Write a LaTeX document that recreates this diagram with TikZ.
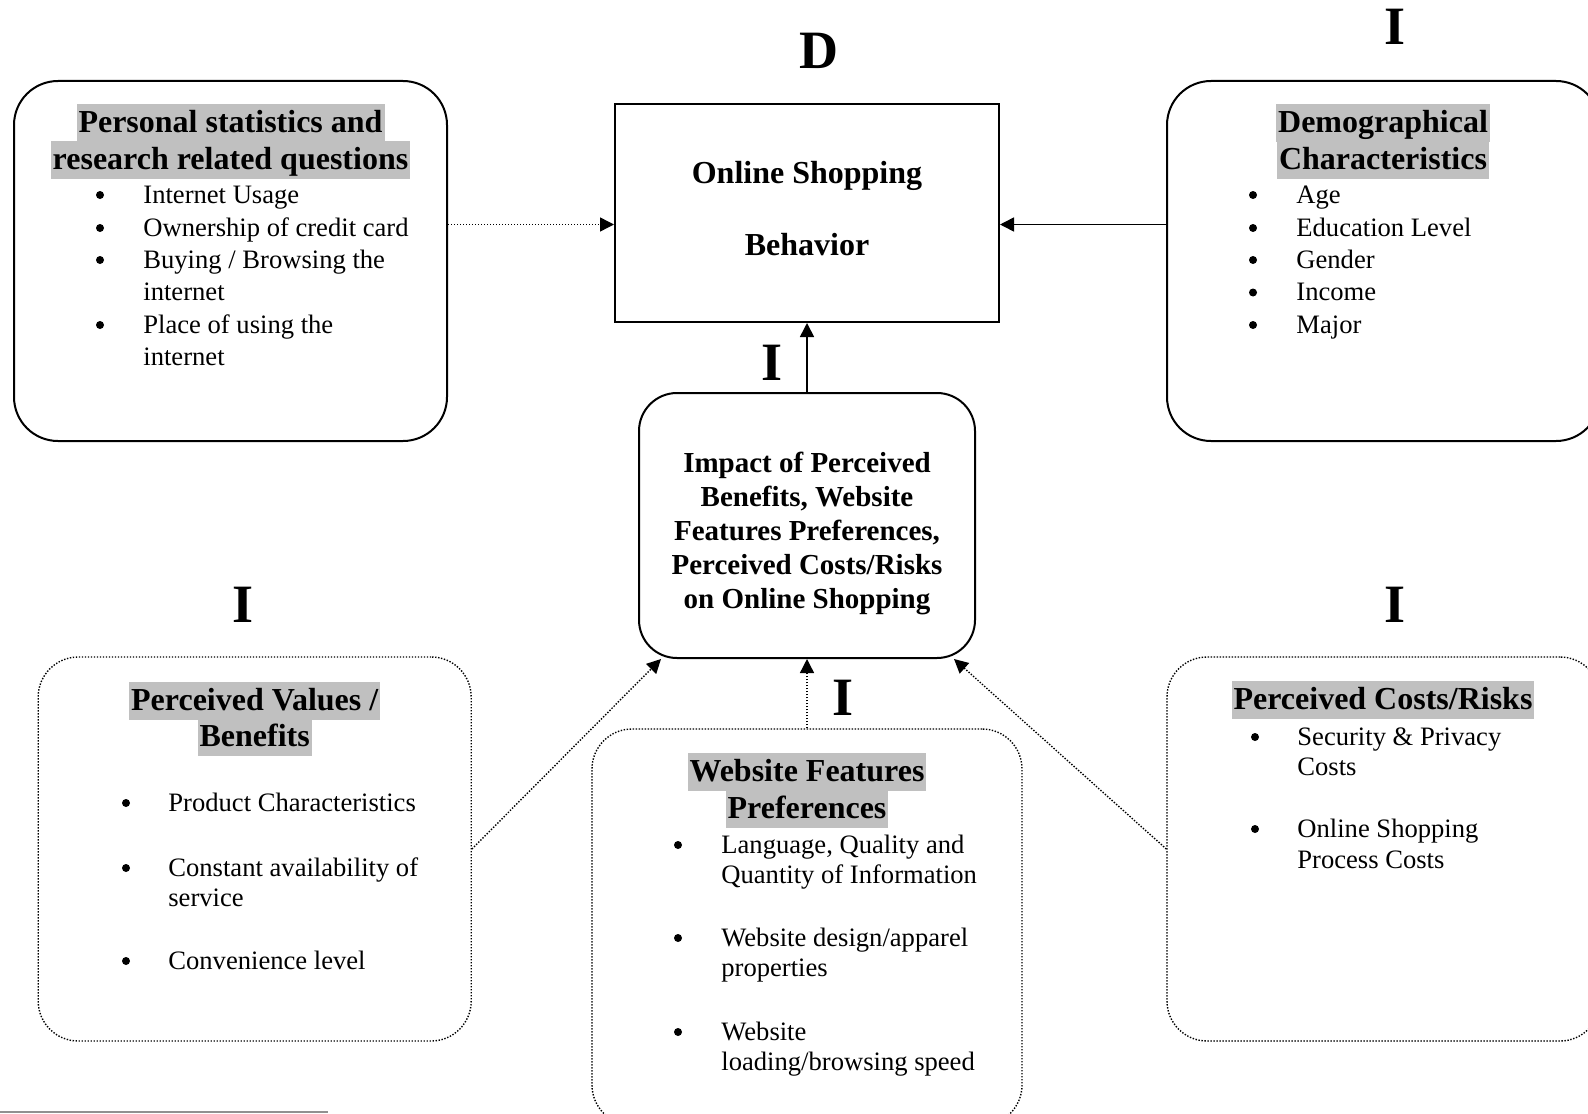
\documentclass[tikz,border=0pt]{standalone}
\usepackage{fontspec}
\setmainfont{Liberation Serif}
\usetikzlibrary{arrows.meta}
\definecolor{hlgray}{HTML}{C0C0C0}
\definecolor{rulegray}{HTML}{909090}

\begin{document}
\begin{tikzpicture}[
  x=0.5pt,y=-0.5pt,
  solidbox/.style={draw,line width=1pt,rounded corners=22pt,inner sep=0pt},
  dotbox/.style={draw,line width=0.7pt,dash pattern=on 0.7pt off 0.8pt,rounded corners=20pt,inner sep=0pt},
  heading/.style={fill=hlgray,inner xsep=1pt,inner ysep=0pt,text height=14pt,text depth=4.75pt,font=\bfseries\fontsize{16}{18}\selectfont},
  itemtext/.style={anchor=base west,inner sep=0pt,font=\fontsize{13.3}{15}\selectfont},
  bulletmark/.style={circle,fill,inner sep=0pt,minimum size=4pt,yshift=4pt},
  letter/.style={inner sep=0pt,font=\bfseries\fontsize{27}{30}\selectfont},
  link/.style={-{Triangle[length=7pt,width=7pt]},line width=0.8pt},
  dotlink/.style={-{Triangle[length=7pt,width=7pt]},line width=0.7pt,dash pattern=on 0.7pt off 0.8pt}
]
  \useasboundingbox (0,0) rectangle (1588,1113);
  \clip (0,0) rectangle (1588,1113);

  % boxes
  \node[solidbox,minimum width=216.5pt,minimum height=180pt] (pers) at (230.5,261) {};
  \node[draw,line width=1pt,inner sep=0pt,minimum width=192pt,minimum height=109pt] (beh) at (807,213) {};
  \node[solidbox,minimum width=216.5pt,minimum height=180pt] (demo) at (1383.5,261) {};
  \node[solidbox,rounded corners=19pt,minimum width=168pt,minimum height=132.5pt] (imp) at (807,525.5) {};
  \node[dotbox,minimum width=216.5pt,minimum height=192pt] (pvb) at (254.7,849) {};
  \node[dotbox,minimum width=215pt,minimum height=198pt] (wfp) at (807,927) {};
  \node[dotbox,minimum width=216.5pt,minimum height=192pt] (cr) at (1383.5,849) {};

  % dependent variable
  \node[anchor=base,inner sep=0pt,font=\bfseries\fontsize{16}{18}\selectfont] (beh-1) at (807,183) {Online Shopping};
  \node[anchor=base,inner sep=0pt,font=\bfseries\fontsize{16}{18}\selectfont] (beh-2) at (807,255) {Behavior};
  \node[align=center,inner sep=0pt,font=\bfseries\fontsize{14.5}{17}\selectfont] (imp-t) at (807,533)
    {Impact of Perceived\\Benefits, Website\\Features Preferences,\\Perceived Costs/Risks\\on Online Shopping};

  % personal statistics
  \node[heading] (pers-h1) at (230.5,123) {Personal statistics and};
  \node[heading] (pers-h2) at (230.5,160) {research related questions};
  \foreach \yy [count=\j] in {203,236,268,333} \node[bulletmark] (pers-b\j) at (100,\yy) {};
  \foreach \yy/\txt [count=\i] in {203/{Internet Usage},236/{Ownership of credit card},268/{Buying / Browsing the},300.5/{internet},333/{Place of using the},365/{internet}}
    \node[itemtext] (pers-\i) at (143,\yy) {\txt};

  % demographics
  \node[heading] (demo-h1) at (1383,123) {Demographical};
  \node[heading] (demo-h2) at (1383,160) {Characteristics};
  \foreach \yy [count=\j] in {203,236,268,300.5,333} \node[bulletmark] (demo-b\j) at (1253,\yy) {};
  \foreach \yy/\txt [count=\i] in {203/{Age},236/{Education Level},268/{Gender},300.5/{Income},333/{Major}}
    \node[itemtext] (demo-\i) at (1296,\yy) {\txt};

  % perceived values
  \node[heading] (pvb-h1) at (254.7,701) {Perceived Values /};
  \node[heading] (pvb-h2) at (254.7,737.5) {Benefits};
  \foreach \yy [count=\j] in {811,876,969} \node[bulletmark] (pvb-b\j) at (126,\yy) {};
  \foreach \yy/\txt [count=\i] in {811/{Product Characteristics},876/{Constant availability of},906/{service},969/{Convenience level}}
    \node[itemtext] (pvb-\i) at (168,\yy) {\txt};

  % website features
  \node[heading] (wfp-h1) at (807,772) {Website Features};
  \node[heading] (wfp-h2) at (807,809) {Preferences};
  \foreach \yy [count=\j] in {853,946,1040} \node[bulletmark] (wfp-b\j) at (678,\yy) {};
  \foreach \yy/\txt [count=\i] in {853/{Language, Quality and},883/{Quantity of Information},946/{Website design/apparel},976/{properties},1040/{Website},1070/{loading/browsing speed}}
    \node[itemtext] (wfp-\i) at (721,\yy) {\txt};

  % perceived costs
  \node[heading] (cr-h1) at (1383,700) {Perceived Costs/Risks};
  \foreach \yy [count=\j] in {745,837} \node[bulletmark] (cr-b\j) at (1255,\yy) {};
  \foreach \yy/\txt [count=\i] in {745/{Security \& Privacy},775/{Costs},837/{Online Shopping},868/{Process Costs}}
    \node[itemtext] (cr-\i) at (1297,\yy) {\txt};

  % variable marks
  \node[letter] (mark-d) at (819,51) {D};
  \node[letter] (mark-demo) at (1395,27) {I};
  \node[letter] (mark-imp) at (772,363) {I};
  \node[letter] (mark-pvb) at (243,605) {I};
  \node[letter] (mark-cr) at (1395,605) {I};
  \node[letter] (mark-wfp) at (843,698) {I};

  % connectors
  \coordinate (row) at (0,224.5);
  \draw[dotlink] (pers.east |- row) -- (beh.west |- row);
  \draw[link] (demo.west |- row) -- (beh.east |- row);
  \draw[link] (imp.north) -- (beh.south);
  \draw[dotlink] (pvb.east) -- ([xshift=11.5pt]imp.south west);
  \draw[dotlink] (wfp.north) -- (imp.south);
  \draw[dotlink] (cr.west) -- ([xshift=-11pt]imp.south east);

  \draw[rulegray,line width=1pt] (0,1112) -- (328,1112);
\end{tikzpicture}
\end{document}
